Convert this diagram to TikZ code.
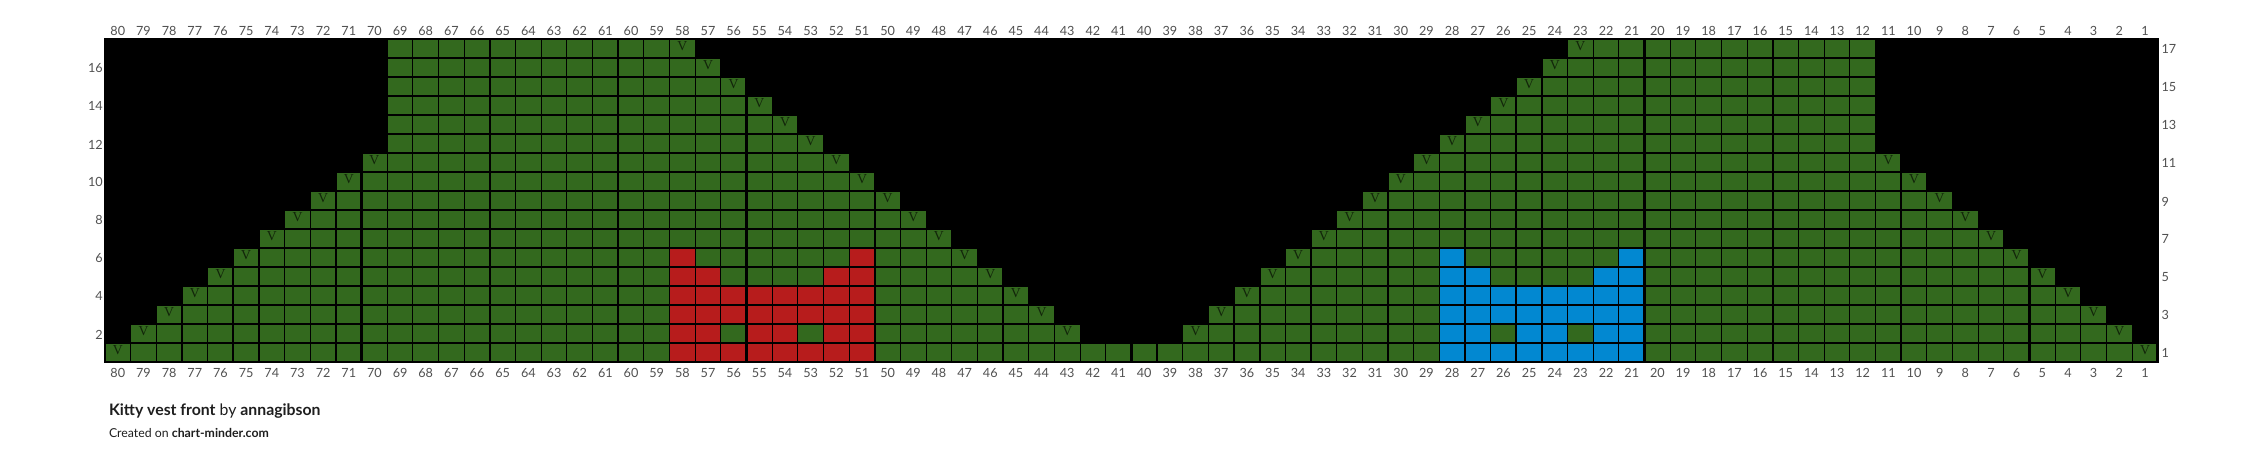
\documentclass[tikz,border=0pt]{standalone}
\usepackage{fontspec}
\setmainfont{Lato}
\newfontfamily\slipfont{Liberation Serif}
\usepackage{xcolor}
\usepackage{tikz}
\usetikzlibrary{positioning,calc}
\definecolor{knitgreen}{RGB}{51,105,30}
\definecolor{kittyred}{RGB}{183,28,28}
\definecolor{kittyblue}{RGB}{2,136,209}
\definecolor{numgray}{RGB}{80,80,80}
\definecolor{titlegray}{RGB}{30,30,30}

\tikzset{
  gridthin/.style={line width=0.32pt, black},
  gridthick/.style={line width=0.65pt, black},
  gridborder/.style={line width=0.85pt, black},
  colnum/.style={inner sep=0pt, text=numgray, font=\fontsize{3.6pt}{4pt}\selectfont},
  slip/.style={inner sep=0pt, text=knitgreen!35!black, font=\slipfont\fontsize{3.9pt}{4pt}\selectfont}
}

\begin{document}
\begin{tikzpicture}[x=0.2566cm, y=0.19cm]
    \useasboundingbox (-4.092,-5.437) rectangle (84.14,19.053);

    % Background (no stitch)
    \fill[black] (0,0) rectangle (80,17);

    % Knitted area
    \fill[knitgreen] (0,0) rectangle (80,1);
    \foreach \r in {2,...,17} {
        \pgfmathtruncatemacro{\la}{min(\r-1,11)}
        \pgfmathtruncatemacro{\lb}{40-\r}
        \pgfmathtruncatemacro{\ra}{40+\r}
        \pgfmathtruncatemacro{\rb}{max(81-\r,69)}
        \fill[knitgreen] (\la,\r-1) rectangle (\lb,\r);
        \fill[knitgreen] (\ra,\r-1) rectangle (\rb,\r);
    }

    % Kitty motifs
    \foreach \mx/\mc in {22/kittyred, 52/kittyblue} {
        \fill[\mc] (\mx,0) rectangle ++(8,4);        % rows 1-4
        \fill[knitgreen] (\mx+2,1) rectangle ++(1,1); % eyes
        \fill[knitgreen] (\mx+5,1) rectangle ++(1,1);
        \fill[\mc] (\mx,4) rectangle ++(2,1);        % ears
        \fill[\mc] (\mx+6,4) rectangle ++(2,1);
        \fill[\mc] (\mx,5) rectangle ++(1,1);
        \fill[\mc] (\mx+7,5) rectangle ++(1,1);
    }

    % Grid
    \foreach \x in {1,...,79} \draw[gridthin] (\x,0) -- (\x,17);
    \foreach \y in {1,...,16} \draw[gridthin] (0,\y) -- (80,\y);
    \foreach \x in {5,10,...,75} \draw[gridthick] (\x,0) -- (\x,17);
    \foreach \y in {5,10,15} \draw[gridthick] (0,\y) -- (80,\y);
    \draw[gridborder] (0,0) rectangle (80,17);

    % Slip stitches
    \foreach \r in {1,...,11} {
        \node[slip] (vl\r) at (\r-0.5,\r-0.384) {V};
        \node[slip] (vr\r) at (80.5-\r,\r-0.384) {V};
    }
    \foreach \r in {2,...,17} {
        \node[slip] (vml\r) at (39.5-\r,\r-0.384) {V};
        \node[slip] (vmr\r) at (40.5+\r,\r-0.384) {V};
    }

    % Stitch numbers
    \foreach \c in {1,...,80} {
        \node[colnum, anchor=base] (top\c) at (80.5-\c,17.21) {\c};
        \node[colnum, anchor=base] (bot\c) at (80.5-\c,-0.805) {\c};
    }

    % Row numbers
    \foreach \r in {2,4,...,16} \node[colnum, anchor=east] (left\r) at (-0.06,\r-0.55) {\r};
    \foreach \r in {1,3,...,17} \node[colnum, anchor=west] (right\r) at (80.12,\r-0.55) {\r};

    % Caption
    \node[anchor=base west, inner sep=0pt, text=titlegray, font=\fontsize{4.5pt}{5pt}\selectfont] (title) at (0.13,-2.82) {\textbf{Kitty vest front} by \textbf{annagibson}};
    \node[anchor=base west, inner sep=0pt, text=titlegray, font=\fontsize{3.5pt}{4pt}\selectfont] (credit) at (0.13,-4.0) {Created on \textbf{chart-minder.com}};
\end{tikzpicture}
\end{document}
